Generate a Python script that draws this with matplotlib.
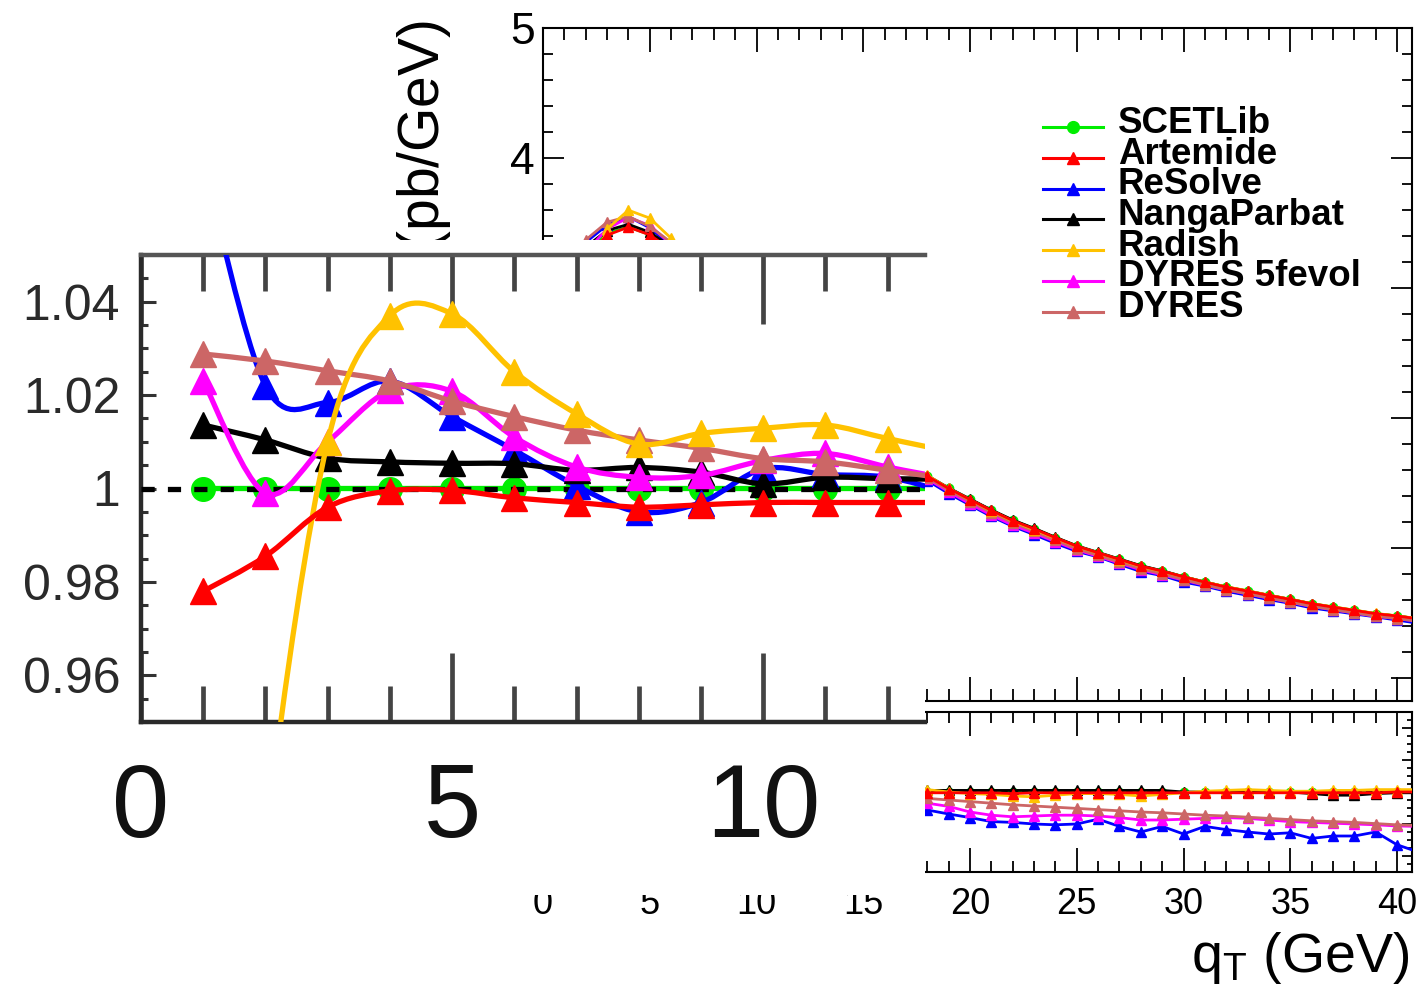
import numpy as np
import matplotlib
matplotlib.use("Agg")
import matplotlib.pyplot as plt
from matplotlib.path import Path
from matplotlib.patches import PathPatch, Rectangle
from matplotlib.lines import Line2D
from matplotlib.ticker import MultipleLocator, FixedLocator, FuncFormatter

plt.rcParams['font.family'] = ['Liberation Sans', 'DejaVu Sans']
plt.rcParams['mathtext.fontset'] = 'custom'
plt.rcParams['mathtext.rm'] = 'Liberation Sans'
plt.rcParams['mathtext.it'] = 'Liberation Sans:italic'

# ---- data ----
qT = np.arange(1, 42)

# SCETLib cross section (pb/GeV)
xsec_scetlib = [2.20, 3.28, 3.42, 3.47, 3.41, 3.30, 3.15, 2.99, 2.82, 2.66,
                2.50, 2.35, 2.20, 2.06, 1.92, 1.79, 1.67, 1.554, 1.459, 1.374,
                1.290, 1.213, 1.149, 1.080, 1.015, 0.964, 0.913, 0.862, 0.823, 0.779,
                0.738, 0.700, 0.669, 0.636, 0.605, 0.572, 0.546, 0.521, 0.495, 0.477,
                0.455]

# ratios to SCETLib
r_scetlib = [1.0] * 41
r_artemide = [0.978, 0.9855, 0.996, 0.9995, 0.9996, 0.998, 0.997, 0.996, 0.9965, 0.997,
              0.997, 0.997, 0.997, 0.997, 0.998, 0.998, 0.998, 0.999, 0.999, 0.999,
              0.999, 0.998, 0.999, 0.999, 0.999, 0.999, 0.999, 0.999, 0.999, 0.999,
              0.999, 0.999, 0.999, 0.999, 0.999, 0.999, 0.999, 0.999, 0.999, 1.0,
              1.0]
r_resolve = [1.070, 1.022, 1.0184, 1.023, 1.0154, 1.0082, 1.0006, 0.995, 0.997, 1.0042,
             1.003, 1.0024, 0.999, 0.995, 0.990, 0.986, 0.982, 0.9775, 0.9725, 0.968,
             0.963, 0.962, 0.960, 0.959, 0.960, 0.966, 0.957, 0.950, 0.957, 0.9475,
             0.957, 0.953, 0.950, 0.9475, 0.949, 0.942, 0.945, 0.945, 0.950, 0.934,
             0.925]
r_nangaparbat = [1.0136, 1.0104, 1.0065, 1.0057, 1.0054, 1.0053, 1.0039, 1.0045, 1.0035, 1.001,
                 1.0024, 1.0021, 1.002, 1.002, 1.0015, 1.0015, 1.001, 1.002, 1.002, 1.002,
                 1.002, 1.002, 1.002, 1.002, 1.002, 1.002, 1.002, 1.002, 1.002, 1.0,
                 1.0, 1.0, 1.0, 1.0, 1.0, 0.998, 0.996, 0.996, 0.998, 0.999,
                 0.999]
r_radish = [0.80, 0.925, 1.010, 1.037, 1.0374, 1.025, 1.016, 1.0095, 1.0118, 1.0129,
            1.0136, 1.0107, 1.008, 1.006, 1.005, 1.004, 1.003, 1.003, 1.0, 0.998,
            0.997, 0.995, 0.994, 0.996, 0.998, 0.998, 0.997, 0.995, 0.997, 0.999,
            1.001, 1.002, 1.003, 1.002, 1.001, 1.001, 1.002, 1.002, 1.003, 1.003,
            1.003]
r_dyres5f = [1.023, 0.999, 1.010, 1.021, 1.0208, 1.011, 1.0046, 1.0024, 1.0028, 1.006,
             1.0075, 1.0046, 1.002, 0.999, 0.995, 0.992, 0.989, 0.986, 0.982, 0.975,
             0.971, 0.969, 0.970, 0.971, 0.971, 0.970, 0.968, 0.965, 0.965, 0.966,
             0.967, 0.968, 0.967, 0.965, 0.963, 0.962, 0.961, 0.960, 0.959, 0.9575,
             0.957]
r_dyres = [1.0288, 1.0273, 1.0252, 1.023, 1.0187, 1.0154, 1.0125, 1.0104, 1.0086, 1.0064,
           1.0057, 1.0039, 1.002, 1.0, 0.998, 0.996, 0.994, 0.992, 0.990, 0.988,
           0.986, 0.984, 0.9825, 0.981, 0.9795, 0.978, 0.9765, 0.975, 0.974, 0.9725,
           0.971, 0.970, 0.9685, 0.967, 0.9655, 0.964, 0.963, 0.962, 0.9605, 0.959,
           0.958]

names = ['SCETLib', 'Artemide', 'ReSolve', 'NangaParbat', 'Radish', 'DYRES 5fevol', 'DYRES']
colors = ['#00ee00', '#ff0000', '#0000ff', '#000000', '#ffc200', '#ff00ff', '#cc6666']
markers = ['o', '^', '^', '^', '^', '^', '^']
ratios = [r_scetlib, r_artemide, r_resolve, r_nangaparbat, r_radish, r_dyres5f, r_dyres]
draw_order = [0, 2, 3, 5, 6, 4, 1]

W, H = 1422, 994


def px_box(left, top, right, bottom):
    return [left / W, 1 - bottom / H, (right - left) / W, (bottom - top) / H]


def smooth_path(x, y):
    # Catmull-Rom through the points, as bezier segments (like ROOT "C")
    x = list(x)
    y = list(y)
    n = len(x)
    verts = [(x[0], y[0])]
    codes = [Path.MOVETO]
    for i in range(n - 1):
        xa, ya = (x[i - 1], y[i - 1]) if i > 0 else (x[i], y[i])
        xb, yb = (x[i + 2], y[i + 2]) if i + 2 < n else (x[i + 1], y[i + 1])
        c1 = (x[i] + (x[i + 1] - xa) / 6, y[i] + (y[i + 1] - ya) / 6)
        c2 = (x[i + 1] - (xb - x[i]) / 6, y[i + 1] - (yb - y[i]) / 6)
        verts += [c1, c2, (x[i + 1], y[i + 1])]
        codes += [Path.CURVE4] * 3
    return Path(verts, codes)


fig = plt.figure(figsize=(14.22, 9.94), dpi=100)

# ---- main top panel ----
ax1 = fig.add_axes(px_box(543, 28, 1412, 701))
ax1.set_xlim(0, 40.7)
ax1.set_ylim(-0.177, 5)
for i in draw_order:
    vals = np.array(xsec_scetlib) * np.array(ratios[i])
    ax1.plot(qT, vals, color=colors[i], lw=2.0, marker=markers[i],
             ms=6 if markers[i] == 'o' else 6.5, mec=colors[i], zorder=3)
ax1.xaxis.set_major_locator(MultipleLocator(5))
ax1.xaxis.set_minor_locator(MultipleLocator(1))
ax1.yaxis.set_major_locator(MultipleLocator(1))
ax1.yaxis.set_minor_locator(MultipleLocator(0.2))
ax1.tick_params(which='both', direction='in', top=True, right=True, width=1.3)
ax1.tick_params(axis='x', which='major', length=17)
ax1.tick_params(axis='x', which='minor', length=8.5)
ax1.tick_params(axis='y', which='major', length=15)
ax1.tick_params(axis='y', which='minor', length=7.5)
ax1.tick_params(axis='x', labelbottom=False)
ax1.tick_params(axis='y', labelsize=32, pad=6)
for s in ax1.spines.values():
    s.set_linewidth(1.5)

# ---- main ratio panel ----
ax2 = fig.add_axes(px_box(543, 712, 1412, 872))
ax2.set_xlim(0, 40.7)
ax2.set_ylim(0.9, 1.1)
for i in draw_order:
    ax2.plot(qT, ratios[i], color=colors[i], lw=2.0, marker=markers[i],
             ms=6 if markers[i] == 'o' else 7, mec=colors[i], zorder=3)
    if i == 0:
        ax2.axhline(1.0, color='k', lw=1.5, dashes=(3, 2), zorder=3)
ax2.xaxis.set_major_locator(MultipleLocator(5))
ax2.xaxis.set_minor_locator(MultipleLocator(1))
ax2.yaxis.set_major_locator(MultipleLocator(0.04))
ax2.yaxis.set_minor_locator(MultipleLocator(0.01))
ax2.tick_params(which='both', direction='in', top=True, right=True, width=1.3)
ax2.tick_params(axis='x', which='major', length=17, labelsize=26, pad=11)
ax2.tick_params(axis='x', which='minor', length=8)
ax2.tick_params(axis='y', which='major', length=7, labelleft=False)
ax2.tick_params(axis='y', which='minor', length=3.5)
for s in ax2.spines.values():
    s.set_linewidth(1.5)

fig.text(1410 / W, 1 - 972 / H, r"$\mathregular{q_{T}}$ (GeV)", ha='right', va='baseline',
         fontsize=40)
fig.text(424 / W, 1 - 20 / H, r"d$\mathregular{\sigma}$/d$\mathregular{q_{T}}$ (pb/GeV)",
         rotation=90, ha='center', va='top', fontsize=41)

# ---- legend ----
for k in range(len(names)):
    yl = 1 - (127 + 30.8 * k) / H
    fig.add_artist(Line2D([1043 / W, 1103 / W], [yl, yl], color=colors[k], lw=2.2,
                          transform=fig.transFigure))
    fig.add_artist(Line2D([1073 / W], [yl], color=colors[k], marker=markers[k],
                          ms=8.5, mec=colors[k], transform=fig.transFigure))
    fig.text(1118 / W, 1 - (133 + 30.7 * k) / H, names[k], fontsize=26.5,
             fontweight='bold', ha='left', va='baseline')

# ---- zoomed inset pasted over the left part ----
fig.add_artist(Rectangle((0, 1 - 895 / H), 925 / W, (895 - 240) / H, facecolor='white',
                         edgecolor='none', transform=fig.transFigure, zorder=5))

ax3 = fig.add_axes(px_box(141, 255, 925, 722))
ax3.set_zorder(6)
ax3.set_xlim(0, 12.6)
ax3.set_ylim(0.95, 1.05)
for i in draw_order:
    ax3.add_patch(PathPatch(smooth_path(qT, ratios[i]), fill=False, edgecolor=colors[i],
                            lw=3.8, zorder=3))
    ax3.plot(qT, ratios[i], ls='none', marker=markers[i], color=colors[i],
             ms=17 if markers[i] == 'o' else 19, mec=colors[i], zorder=3)
    if i == 0:
        ax3.axhline(1.0, color='k', lw=3.8, dashes=(2.5, 2.5), zorder=3)

ax3.xaxis.set_major_locator(FixedLocator([0, 5, 10]))
ax3.xaxis.set_minor_locator(MultipleLocator(1))
ax3.yaxis.set_major_locator(MultipleLocator(0.02))
ax3.yaxis.set_minor_locator(MultipleLocator(0.005))
ax3.yaxis.set_major_formatter(FuncFormatter(lambda v, p: '%g' % round(v, 3)))
ax3.tick_params(axis='x', which='both', direction='in', top=True, bottom=True,
                width=3.4, color='#444444')
ax3.tick_params(axis='x', which='major', length=50, labelsize=74, pad=29,
                labelcolor='#111111')
ax3.tick_params(axis='x', which='minor', length=26)
ax3.tick_params(axis='y', which='both', direction='in', left=True, right=False,
                width=2.2, color='#333333')
ax3.tick_params(axis='y', which='major', length=11, labelsize=36, pad=15,
                labelcolor='#2a2a2a')
ax3.tick_params(axis='y', which='minor', length=5)
ax3.spines['right'].set_visible(False)
for s in ['left', 'top', 'bottom']:
    ax3.spines[s].set_linewidth(3.2)
    ax3.spines[s].set_color('#2a2a2a')
ax3.spines['top'].set_color('#555555')

fig.savefig('out.png', dpi=100)
